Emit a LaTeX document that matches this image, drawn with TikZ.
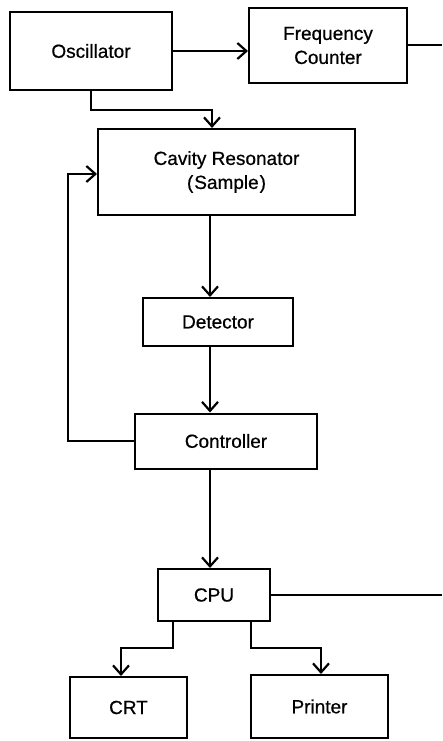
\documentclass[tikz,border=0pt]{standalone}
\usepackage{fontspec}
\setmainfont{Liberation Sans}
\newfontfamily\medfont{Liberation Sans}[FakeBold=0.6]
\usetikzlibrary{arrows.meta}
\begin{document}
\begin{tikzpicture}[x=1pt,y=-1pt,line width=2pt,
  box/.style={draw,rectangle,inner sep=0pt,align=center,font=\medfont\fontsize{19}{24}\selectfont},
  arr/.style={-{Straight Barb[length=9pt,width=16pt,line width=2.2pt]}},
  ln/.style={line join=miter}]
\useasboundingbox (0,0) rectangle (442,741);
\node[box,minimum width=162pt,minimum height=78pt] (osc) at (91,51) {Oscillator};
\node[box,minimum width=158pt,minimum height=75pt] (fc) at (328,45.5) {Frequency\\Counter};
\node[box,minimum width=257pt,minimum height=86pt] (cav) at (226.5,172) {Cavity Resonator\\(\kern1pt Sample\kern1pt)};
\node[box,minimum width=150pt,minimum height=48pt] (det) at (218,322) {Detector};
\node[box,minimum width=182pt,minimum height=55pt] (ctl) at (226,441) {Controller};
\node[box,minimum width=112pt,minimum height=52pt] (cpu) at (214,595) {CPU};
\node[box,minimum width=117pt,minimum height=61pt] (crt) at (128.5,707.5) {CRT};
\node[box,minimum width=137pt,minimum height=63pt] (prn) at (319.5,706.5) {Printer};
\coordinate (edge) at (442,0);
\coordinate (sp) at (210,0);
\coordinate (j1) at (91,110);
\coordinate (j2) at (212,110);
\coordinate (fb) at (68,174);
\coordinate (c1) at (173,648);
\coordinate (c2) at (121,648);
\coordinate (p1) at (251,648);
\coordinate (p2) at (321,648);
\draw[arr] (osc.east) -- (osc.east -| fc.west);
\draw (fc.east) -- (fc.east -| edge);
\draw[arr,ln] (osc.south) -- (j1) -- (j2) -- (j2 |- cav.north);
\draw[arr] (cav.south -| sp) -- (det.north -| sp);
\draw[arr] (det.south -| sp) -- (ctl.north -| sp);
\draw[arr] (ctl.south -| sp) -- (cpu.north -| sp);
\draw[arr,ln] (ctl.west) -| (fb) -- (fb -| cav.west);
\draw (cpu.east) -- (cpu.east -| edge);
\draw[arr,ln] (c1 |- cpu.south) -- (c1) -- (c2) -- (c2 |- crt.north);
\draw[arr,ln] (p1 |- cpu.south) -- (p1) -- (p2) -- (p2 |- prn.north);
\end{tikzpicture}
\end{document}
